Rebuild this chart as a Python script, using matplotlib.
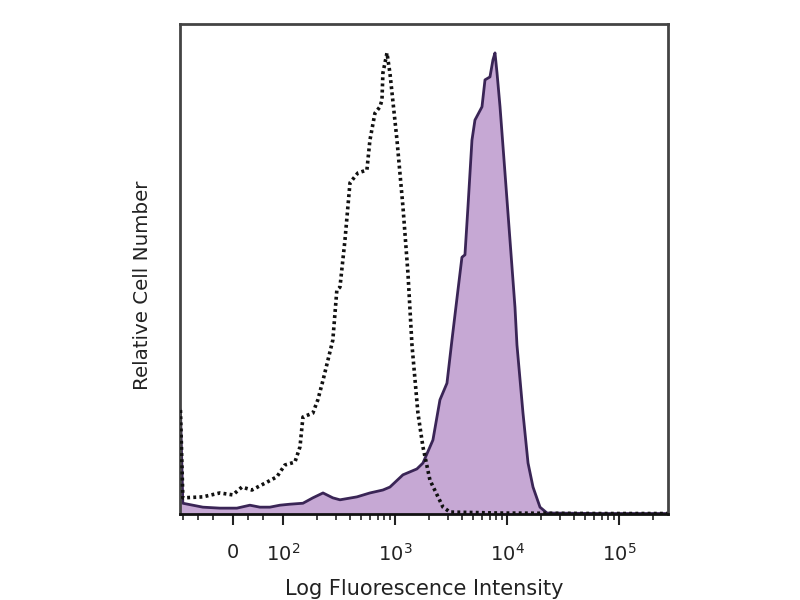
import matplotlib
matplotlib.use("Agg")
import matplotlib.pyplot as plt
from matplotlib.ticker import FixedLocator

# ---- data (fluorescence intensity, relative count) ----
iso_x = [-105, -100, -60, -26, 0, 18, 38, 68, 88, 104, 128, 142, 151, 185, 205, 228,
         279, 303, 323, 358, 397, 467, 562, 598, 663, 735, 766, 781, 849, 902, 1043,
         1179, 1306, 1419, 1604, 1778, 2054, 2685, 3099, 8670, 67600, 270000]
iso_y = [21.2, 3.3, 3.5, 4.3, 3.9, 5.5, 4.9, 6.5, 7.6, 10.0, 10.6, 13.7, 19.8, 20.6, 23.3, 27.3,
         35.5, 45.7, 46.3, 55.9, 67.6, 69.6, 70.2, 76.3, 81.8, 83.1, 84.5, 90.0, 94.1, 90.0, 76.3,
         62.7, 49.2, 34.5, 20.6, 13.7, 6.9, 1.4, 0.4, 0.2, 0.1, 0.1]

stain_x = [-105, -100, -60, -26, 8, 34, 54, 74, 94, 115, 151, 185, 228, 279, 323, 458,
           598, 781, 902, 1179, 1570, 1778, 2183, 2522, 2913, 3228, 3652, 3963, 4217, 4486,
           4870, 5179, 5984, 6366, 7050, 7499, 7818, 8152, 8670, 9602, 10640, 11790, 12280,
           13900, 15420, 17080, 19720, 22770, 67600, 270000]
stain_y = [21.2, 2.2, 1.4, 1.2, 1.2, 1.8, 1.4, 1.4, 1.8, 2.0, 2.2, 3.3, 4.3, 3.3, 2.9, 3.5,
           4.3, 4.9, 5.5, 8.0, 9.2, 10.4, 15.1, 23.3, 26.7, 35.5, 45.7, 52.4, 52.9, 62.7,
           76.3, 80.4, 83.1, 88.6, 89.2, 92.7, 94.1, 90.0, 83.1, 69.6, 55.9, 42.2, 34.5,
           20.6, 10.4, 5.5, 1.4, 0.2, 0.1, 0.1]

tick_values = [0, 100, 1000, 10000, 100000]
tick_labels = ["0", r"$10^2$", r"$10^3$", r"$10^4$", r"$10^5$"]

fig = plt.figure(figsize=(8, 6), dpi=100)
ax = fig.add_axes([0.225, 0.1433, 0.61, 0.8167])
ax.set_xscale("symlog", linthresh=100, linscale=0.402)

ax.fill_between(stain_x, stain_y, 0, color="#c6a8d4", lw=0, zorder=1)
ax.plot(stain_x, stain_y, color="#3a2556", lw=2.0, zorder=2)
ax.plot(iso_x, iso_y, color="#111111", lw=2.6, linestyle=(0, (0.8, 0.9)), zorder=3)

ax.set_xlim(-106, 273800)
ax.set_ylim(0, 100)

ax.xaxis.set_major_locator(FixedLocator(tick_values))
ax.set_xticklabels(tick_labels, fontsize=14)
minor = [-100, -70, -40, 30, 60]
for d in [100, 1000, 10000, 100000]:
    minor += [d * k for k in range(2, 10) if d * k < 273800]
ax.xaxis.set_minor_locator(FixedLocator(minor))
ax.tick_params(axis="x", which="major", length=8, width=1.5, direction="out", pad=13, colors="#222222")
ax.tick_params(axis="x", which="minor", length=4, width=1.2, direction="out", colors="#222222")
ax.set_yticks([])

for side in ["left", "top", "right"]:
    ax.spines[side].set_color("#444444")
    ax.spines[side].set_linewidth(2.0)
ax.spines["bottom"].set_color("#111111")
ax.spines["bottom"].set_linewidth(2.0)

ax.set_xlabel("Log Fluorescence Intensity", fontsize=15, color="#222222")
ax.xaxis.set_label_coords(0.5, -0.133)
ax.set_ylabel("Relative Cell Number", fontsize=14.3, color="#222222")
ax.yaxis.set_label_coords(-0.058, 0.467)

fig.savefig("out.png", dpi=100)
